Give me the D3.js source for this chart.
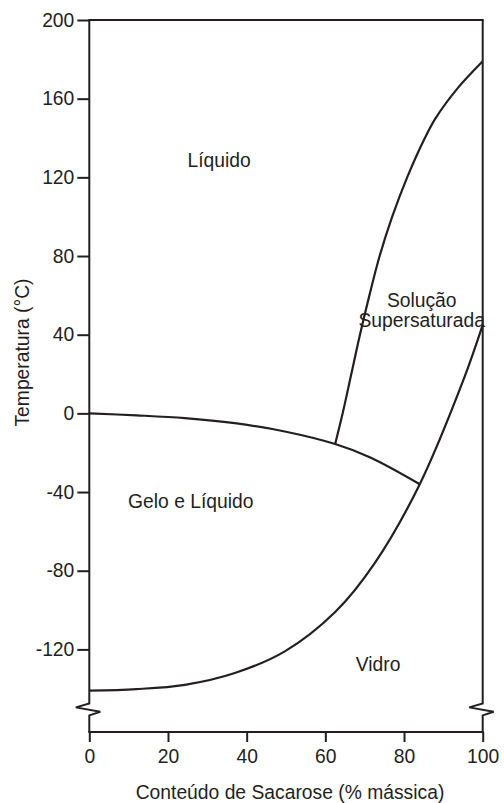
<!DOCTYPE html>
<html>
<head>
<meta charset="utf-8">
<script src="https://cdn.jsdelivr.net/npm/d3@7/dist/d3.min.js"></script>
<style>
  html, body { margin: 0; padding: 0; background: #fff; }
  svg { display: block; }
  text { font-family: "Liberation Sans", Arial, sans-serif; fill: #231f20; }
</style>
</head>
<body>
<svg id="chart" width="504" height="803"></svg>
<script>
// Sucrose–water state diagram
const xTicks = [0, 20, 40, 60, 80, 100];
const yTicks = [-120, -80, -40, 0, 40, 80, 120, 160, 200];

// Freezing curve (ice + liquid boundary): sucrose %, temperature °C
const freezeX = [0, 12, 24.3, 37, 49.7, 62.5, 71.3, 84];
const freezeT = [0, -1, -2.4, -5, -9.2, -15.6, -22.3, -36];

// Solubility curve (supersaturation boundary)
const solubX = [62.5, 64.4, 66.6, 68.8, 71.2, 73.8, 77.0, 80.8, 85.3, 88.0, 93.5, 100];
const solubT = [-15.6, 0, 20, 40, 60, 80, 100, 120, 140, 150, 165, 179];

// Glass transition curve
const glassX = [0, 12, 24.3, 37, 49.7, 62.5, 72.6, 84, 95.1, 100];
const glassT = [-141, -140.2, -138, -132, -121, -101, -76, -36, 17, 45];

const regionLabels = [
  { lines: ["Líquido"], x: 33, t: 125.5 },
  { lines: ["Gelo e Líquido"], x: 25.8, t: -48 },
  { lines: ["Solução", "Supersaturada"], x: 84.5, t: 54 },
  { lines: ["Vidro"], x: 73.4, t: -131 }
];

const ink = "#231f20";
const svg = d3.select("#chart");

const x = d3.scaleLinear().domain([0, 100]).range([89.3, 482.7]);
const y = d3.scaleLinear().domain([-162, 200]).range([732, 20]);
const breakT = -150.5;

const fs = 19.3;

// frame: top border, bottom line and both sides with an axis break
const gFrame = svg.append("g").attr("fill", "none").attr("stroke", ink).attr("stroke-width", 2);

function sideWithBreak(x0) {
  const yb = y(breakT);
  return [
    [x0, y(200)], [x0, yb - 6], [x0 - 13.5, yb - 2], [x0 + 11, yb + 2.3], [x0, yb + 6], [x0, y(-162)]
  ];
}
const lineGen = d3.line();
gFrame.append("path").attr("d", lineGen(sideWithBreak(x(0))));
gFrame.append("path").attr("d", lineGen(sideWithBreak(x(100))));
gFrame.append("line").attr("x1", x(0) - 1).attr("x2", x(100) + 1).attr("y1", y(200)).attr("y2", y(200));
gFrame.append("line").attr("x1", x(0) - 1).attr("x2", x(100) + 1).attr("y1", y(-162)).attr("y2", y(-162));

const plainFormat = d => String(d);

// y axis ticks and labels
const yAxis = d3.axisLeft(y).tickValues(yTicks).tickSize(12).tickPadding(3).tickFormat(plainFormat);
const gy = svg.append("g").attr("transform", `translate(${x(0)},0)`).call(yAxis);
gy.select(".domain").remove();
gy.selectAll(".tick line").attr("stroke", ink).attr("stroke-width", 2);
gy.selectAll(".tick text").attr("font-size", fs).attr("fill", ink)
  .attr("font-family", "Liberation Sans, Arial, sans-serif");

// x axis ticks and labels
const xAxis = d3.axisBottom(x).tickValues(xTicks).tickSize(10).tickPadding(7).tickFormat(plainFormat);
const gx = svg.append("g").attr("transform", `translate(0,${y(-162)})`).call(xAxis);
gx.select(".domain").remove();
gx.selectAll(".tick line").attr("stroke", ink).attr("stroke-width", 2);
gx.selectAll(".tick text").attr("font-size", fs).attr("fill", ink)
  .attr("font-family", "Liberation Sans, Arial, sans-serif");

// axis titles
svg.append("text")
  .attr("x", (x(0) + x(100)) / 2 + 4).attr("y", 798.5)
  .attr("text-anchor", "middle").attr("font-size", fs)
  .text("Conteúdo de Sacarose (% mássica)");
svg.append("text")
  .attr("transform", `translate(28.5,${352.5}) rotate(-90)`)
  .attr("text-anchor", "middle").attr("font-size", fs)
  .text("Temperatura (°C)");

// phase boundary curves, drawn as smooth splines through the points
const curve = d3.line()
  .x(d => x(d[0])).y(d => y(d[1]))
  .curve(d3.curveCatmullRom.alpha(0.5));
const series = [
  d3.zip(freezeX, freezeT),
  d3.zip(solubX, solubT),
  d3.zip(glassX, glassT)
];
svg.append("g").selectAll("path").data(series).join("path")
  .attr("d", curve)
  .attr("fill", "none").attr("stroke", ink).attr("stroke-width", 2.2);

// region labels
const gl = svg.append("g");
regionLabels.forEach(r => {
  const t = gl.append("text").attr("text-anchor", "middle").attr("font-size", fs);
  r.lines.forEach((ln, i) => {
    t.append("tspan").attr("x", x(r.x)).attr("y", y(r.t) + i * 19.5).text(ln);
  });
});
</script>
</body>
</html>
